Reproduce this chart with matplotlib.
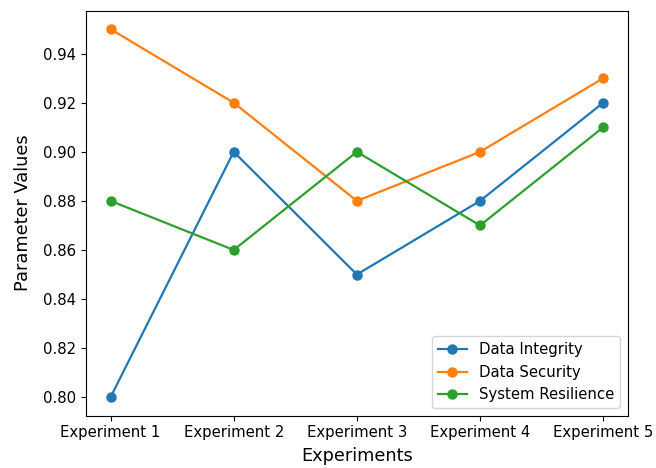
import matplotlib.pyplot as plt

# experiments and measured parameters
experiments = ['Experiment 1', 'Experiment 2', 'Experiment 3', 'Experiment 4', 'Experiment 5']
data_integrity = [0.80, 0.90, 0.85, 0.88, 0.92]
data_security = [0.95, 0.92, 0.88, 0.90, 0.93]
system_resilience = [0.88, 0.86, 0.90, 0.87, 0.91]

fig = plt.figure(figsize=(6.56, 4.68), dpi=100)
ax = fig.add_subplot(111)
fig.subplots_adjust(left=0.131, right=0.957, top=0.977, bottom=0.112)

ax.plot(experiments, data_integrity, marker='o', markersize=6.5, linewidth=1.6, label='Data Integrity')
ax.plot(experiments, data_security, marker='o', markersize=6.5, linewidth=1.6, label='Data Security')
ax.plot(experiments, system_resilience, marker='o', markersize=6.5, linewidth=1.6, label='System Resilience')

ax.tick_params(labelsize=10.7)
ax.set_xlabel('Experiments', fontsize=12.8, labelpad=5)
ax.set_ylabel('Parameter Values', fontsize=12.8, labelpad=8)
ax.legend(loc='lower right', fontsize=10.7)

fig.savefig('out.png')
